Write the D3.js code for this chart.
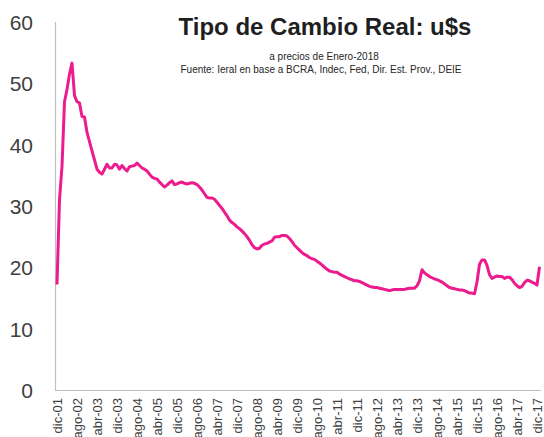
<!DOCTYPE html>
<html><head><meta charset="utf-8">
<script src="https://cdn.jsdelivr.net/npm/d3@7"></script>
<style>body{margin:0;background:#fff}svg{display:block}</style>
</head><body>
<svg id="c" width="544" height="437"></svg>
<script>
// Monthly real exchange rate, dic-01 .. ene-18
const values = [
17.2,31,36.5,47,49,51.5,53.3,48,47,46.8,44.6,44.5,42,40.5,39,37.5,36,35.5,35.2,36,
36.8,36.2,36.2,36.8,36.7,36,36.6,36.1,35.7,36.4,36.5,36.6,37,36.6,36.2,36,35.7,35.2,34.7,34.5,
34.4,33.9,33.5,33.1,33.4,33.8,34.1,33.5,33.6,33.8,33.9,33.7,33.6,33.7,33.8,33.7,33.5,33.1,32.6,32,
31.4,31.3,31.3,31.1,30.6,30.1,29.6,29,28.4,27.7,27.3,27,26.6,26.3,25.9,25.5,25,24.4,23.7,23.2,
23,23.1,23.6,23.8,23.9,24.1,24.3,24.9,25,25,25.2,25.2,25.1,24.7,24.2,23.6,23.2,22.8,22.4,22.1,
21.9,21.6,21.4,21.3,21,20.7,20.4,20,19.7,19.4,19.3,19.2,19.2,18.9,18.7,18.5,18.3,18.1,18,17.8,
17.8,17.7,17.5,17.3,17.1,16.9,16.8,16.7,16.7,16.6,16.5,16.4,16.3,16.2,16.3,16.4,16.4,16.4,16.4,16.4,
16.5,16.6,16.6,16.6,17,17.8,19.6,19.1,18.8,18.5,18.3,18.1,18,17.8,17.6,17.3,17,16.7,16.6,16.5,
16.4,16.3,16.3,16.2,16,15.8,15.8,15.7,17.6,20.5,21.2,21.2,20.3,18.8,18.2,18.4,18.6,18.5,18.5,18.2,
18.4,18.4,18,17.4,17,16.7,16.9,17.5,17.9,17.8,17.6,17.4,17.1,20.1
];
const monthNames = ["ene","feb","mar","abr","may","jun","jul","ago","sep","oct","nov","dic"];
// category labels: month index 11 of 2001 onwards
const categories = values.map((v,i)=>{const m=(11+i)%12, y=2001+Math.floor((11+i)/12);return monthNames[m]+"-"+String(y%100).padStart(2,"0");});
const yTicks = [0,10,20,30,40,50,60];
const title = "Tipo de Cambio Real: u$s";
const subtitle1 = "a precios de Enero-2018";
const subtitle2 = "Fuente: Ieral en base a BCRA, Indec, Fed, Dir. Est. Prov., DEIE";

const svg = d3.select("#c");
const x = d3.scalePoint().domain(categories).range([57, 539.5]);
const y = d3.scaleLinear().domain([0,60]).range([390,22]);
const font = "'Liberation Sans', Arial, sans-serif";

// axes lines
svg.append("line").attr("x1",55.5).attr("x2",55.5).attr("y1",22).attr("y2",390).attr("stroke","#bfbfbf").attr("stroke-width",1.2);
svg.append("line").attr("x1",55).attr("x2",541).attr("y1",390.5).attr("y2",390.5).attr("stroke","#bfbfbf").attr("stroke-width",1.2);

// y labels
const yAxis = d3.axisLeft(y).tickValues(yTicks).tickSize(0).tickPadding(0);
const gy = svg.append("g").attr("transform","translate(33,0)").call(yAxis);
gy.select(".domain").remove();
gy.selectAll("text").attr("font-family",font).attr("font-size",21).attr("fill","#404040").attr("dy","0.35em");

// x labels every 8 months
const xAxis = d3.axisBottom(x).tickValues(categories.filter((c,i)=>i%8===0 && i<=192)).tickSize(0).tickPadding(0);
const gx = svg.append("g").attr("transform","translate(0,398)").call(xAxis);
gx.select(".domain").remove();
gx.selectAll("text").attr("font-family",font).attr("font-size",13).attr("fill","#404040")
  .attr("transform","rotate(-90)").attr("text-anchor","end").attr("x",0).attr("y",0).attr("dy","0.35em");

// line
const line = d3.line().x((d,i)=>x(categories[i])).y(d=>y(d));
svg.append("path").datum(values).attr("d",line).attr("fill","none").attr("stroke","#EC1C8E").attr("stroke-width",3).attr("stroke-linejoin","round");

// titles
svg.append("text").attr("x",325).attr("y",35).attr("text-anchor","middle").attr("font-family",font).attr("font-weight","bold").attr("font-size",24).attr("fill","#1f1f1f").text(title);
svg.append("text").attr("x",324).attr("y",60).attr("text-anchor","middle").attr("font-family",font).attr("font-size",10).attr("fill","#262626").text(subtitle1);
svg.append("text").attr("x",321).attr("y",73).attr("text-anchor","middle").attr("font-family",font).attr("font-size",10).attr("fill","#262626").text(subtitle2);
</script>
</body></html>
